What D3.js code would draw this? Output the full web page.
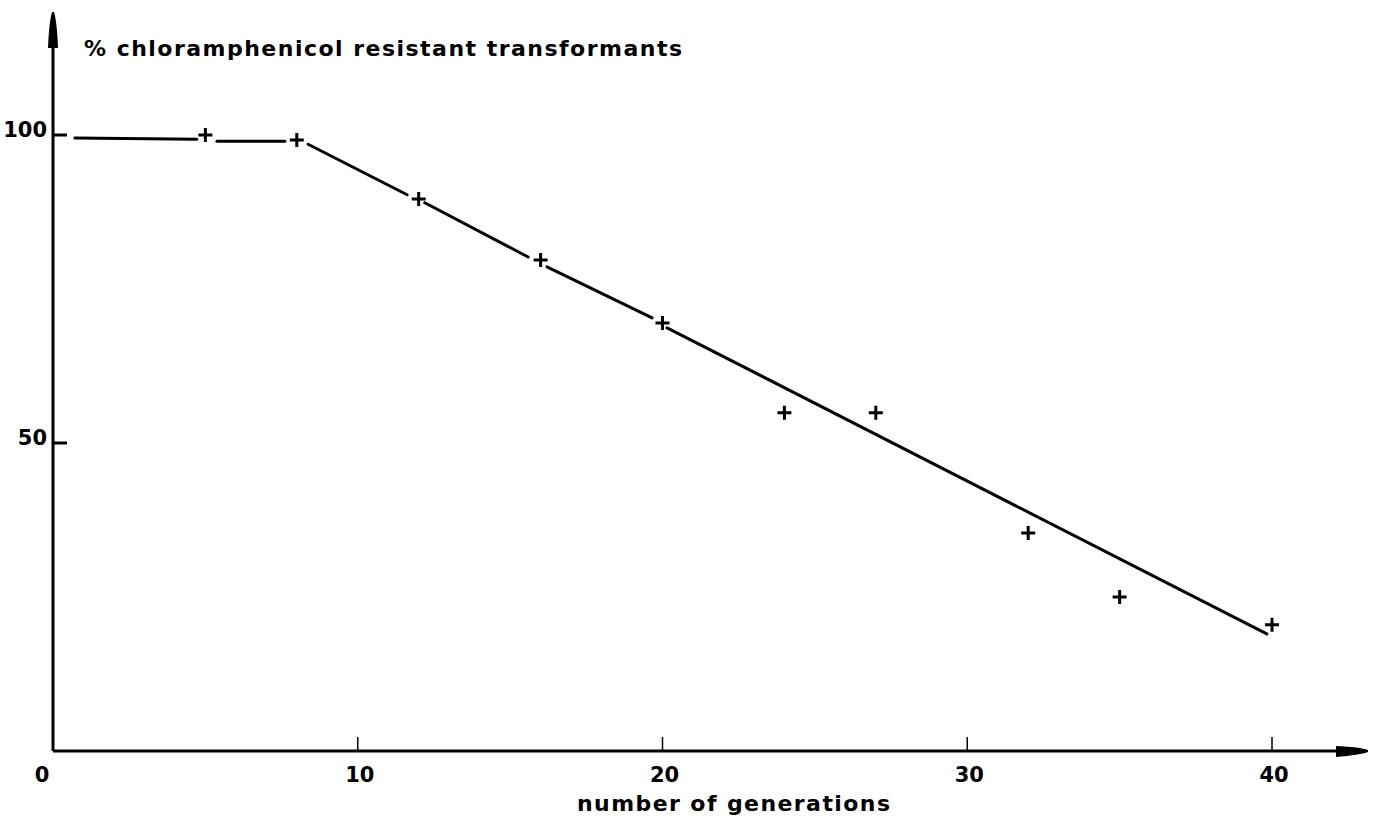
<!DOCTYPE html>
<html>
<head>
<meta charset="utf-8">
<script src="https://cdn.jsdelivr.net/npm/d3@7"></script>
<style>
  html, body { margin: 0; padding: 0; background: #fff; }
  svg { display: block; }
  text { font-family: "DejaVu Sans", sans-serif; font-weight: bold; fill: #000; }
</style>
</head>
<body>
<svg id="chart" width="1375" height="818"></svg>
<script>
// ---- data ----
const generations = [5, 8, 12, 16, 20, 24, 27, 32, 35, 40];
const resistantPct = [100, 99.2, 89.6, 79.7, 69.5, 54.9, 54.9, 35.4, 25.0, 20.5];
// hand-drawn fitted line, drawn in pieces broken around the markers
const fitSegment1 = [[0.72, 99.5], [4.72, 99.3]];
const fitSegment2 = [[5.38, 99.0], [7.61, 99.0]];
const fitSegment3 = [[8.37, 98.5], [11.62, 90.3]];
const fitSegment4 = [[12.2, 89.0], [15.59, 80.2]];
const fitSegment5 = [[16.21, 78.6], [19.66, 70.3]];
const fitSegment6 = [[20.15, 68.7], [39.83, 19.0]];
const xTicks = [10, 20, 30, 40];
const xTickLabels = ["0", "10", "20", "30", "40"];
const xTickLabelValues = [0, 10, 20, 30, 40];
const yTicks = [50, 100];
const yTickLabels = ["50", "100"];
const yTitle = "% chloramphenicol resistant transformants";
const xTitle = "number of generations";

// ---- layout ----
const svg = d3.select("#chart");
const x = d3.scaleLinear().domain([0, 40]).range([53, 1272]);
const y = d3.scaleLinear().domain([0, 100]).range([751, 135]);

// axes lines
svg.append("line").attr("x1", x(0)).attr("x2", 1345).attr("y1", y(0)).attr("y2", y(0))
  .attr("stroke", "#000").attr("stroke-width", 3);
svg.append("line").attr("x1", x(0)).attr("x2", x(0)).attr("y1", y(0)).attr("y2", 40)
  .attr("stroke", "#000").attr("stroke-width", 3);
// arrowheads
svg.append("path").attr("d", `M1336,${y(0)-5} Q1360,${y(0)-4} 1368,${y(0)-1} L1368,${y(0)+1} Q1360,${y(0)+4} 1336,${y(0)+6} Z`).attr("fill", "#000");
svg.append("path").attr("d", `M${x(0)-5},48 Q${x(0)-4},22 ${x(0)-1},12 L${x(0)+1},12 Q${x(0)+4},22 ${x(0)+5},48 Z`).attr("fill", "#000");

// x ticks (small, upward)
svg.selectAll(".xt").data(xTicks).enter().append("line")
  .attr("x1", d => x(d)).attr("x2", d => x(d))
  .attr("y1", y(0)).attr("y2", y(0) - 14)
  .attr("stroke", "#000").attr("stroke-width", 1.5);
// y ticks (short, rightward, thick)
svg.selectAll(".yt").data(yTicks).enter().append("line")
  .attr("x1", x(0)).attr("x2", x(0) + 14)
  .attr("y1", d => y(d)).attr("y2", d => y(d))
  .attr("stroke", "#000").attr("stroke-width", 3);

// tick labels
svg.selectAll(".xl").data(xTickLabelValues).enter().append("text")
  .attr("x", (d, i) => i === 0 ? 42 : x(d) + 2)
  .attr("y", 782)
  .attr("text-anchor", "middle")
  .attr("font-size", 21)
  .text((d, i) => xTickLabels[i]);
svg.selectAll(".yl").data(yTicks).enter().append("text")
  .attr("x", 47)
  .attr("y", d => y(d) + 2)
  .attr("text-anchor", "end")
  .attr("font-size", 21)
  .text((d, i) => yTickLabels[i]);

// titles
svg.append("text").attr("x", 84).attr("y", 56).attr("font-size", 22)
  .attr("textLength", 598).attr("lengthAdjust", "spacing").text(yTitle);
svg.append("text").attr("x", 577).attr("y", 811).attr("font-size", 22)
  .attr("textLength", 313).attr("lengthAdjust", "spacing").text(xTitle);

// fitted line
const lineGen = d3.line().x(d => x(d[0])).y(d => y(d[1]));
[fitSegment1, fitSegment2, fitSegment3, fitSegment4, fitSegment5, fitSegment6].forEach(seg => {
  svg.append("path").attr("d", lineGen(seg)).attr("fill", "none")
    .attr("stroke", "#000").attr("stroke-width", 3).attr("stroke-linecap", "round");
});

// plus markers
const pts = generations.map((g, i) => [g, resistantPct[i]]);
svg.selectAll(".pt").data(pts).enter().append("path")
  .attr("d", d => `M${x(d[0]) - 7},${y(d[1])} h14 M${x(d[0])},${y(d[1]) - 7} v14`)
  .attr("stroke", "#000").attr("stroke-width", 3).attr("fill", "none");
</script>
</body>
</html>
